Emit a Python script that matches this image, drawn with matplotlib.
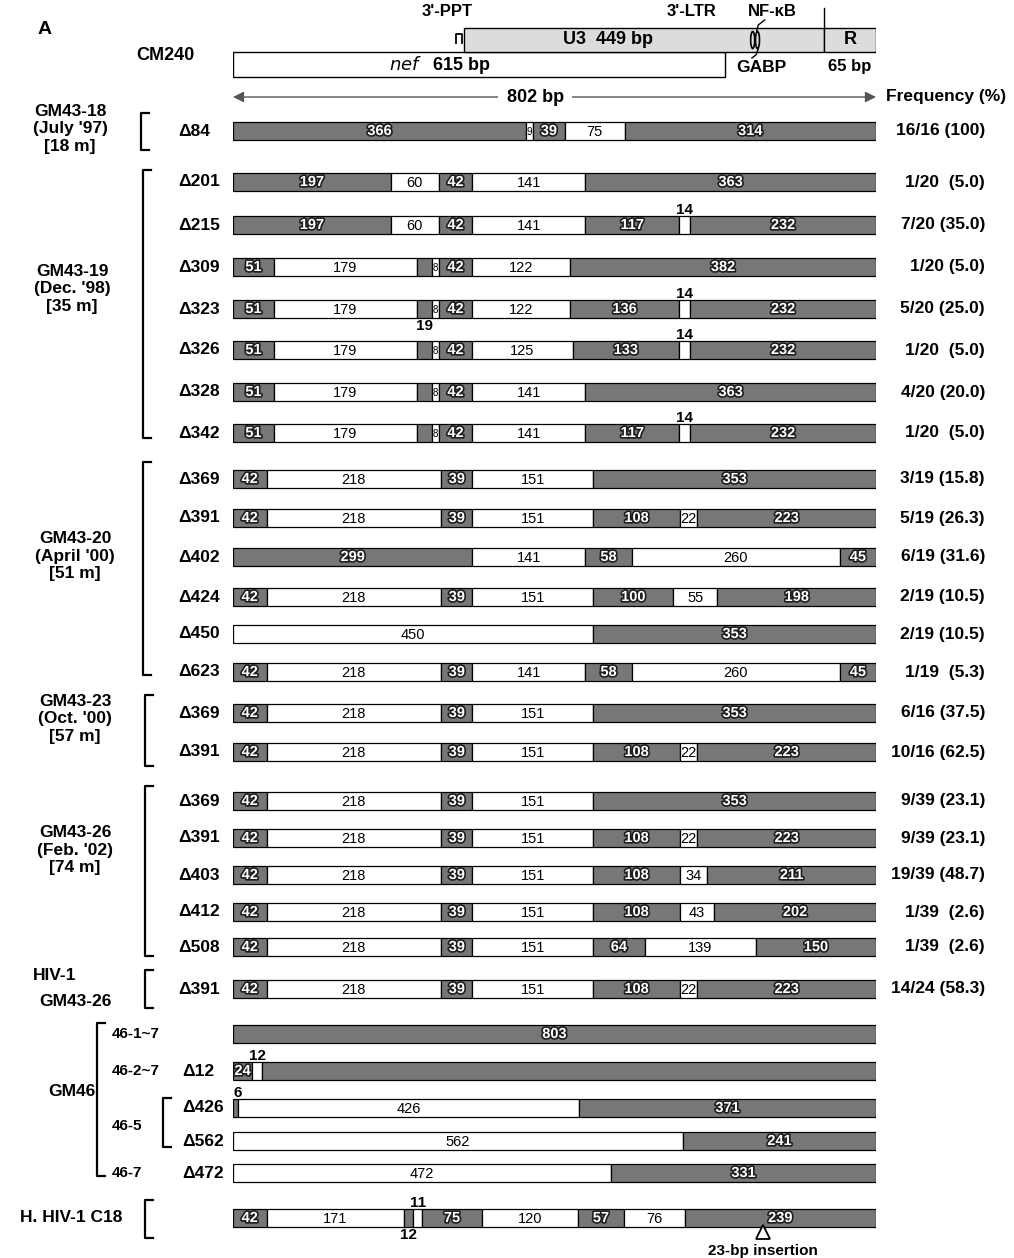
import matplotlib
matplotlib.use('Agg')
import matplotlib.pyplot as plt
import matplotlib.patheffects as pe

plt.rcParams['font.family'] = ['Liberation Sans', 'DejaVu Sans']

# ---- data (bp) ----
total_bp = 803
nef_bp, u3_bp, r_bp = 615, 449, 65
nfkb_bp = 652          # approx. position of the NF-kB sites
insertion_bp = 662     # approx. position of the 23-bp insertion in C18

deletions = ['Δ84',
             'Δ201', 'Δ215', 'Δ309', 'Δ323', 'Δ326', 'Δ328', 'Δ342',
             'Δ369', 'Δ391', 'Δ402', 'Δ424', 'Δ450', 'Δ623',
             'Δ369', 'Δ391',
             'Δ369', 'Δ391', 'Δ403', 'Δ412', 'Δ508',
             'Δ391',
             '', 'Δ12', 'Δ426', 'Δ562', 'Δ472',
             '']

segment_bp = [
    [366, 9, 39, 75, 314],
    [197, 60, 42, 141, 363],
    [197, 60, 42, 141, 117, 14, 232],
    [51, 179, 19, 8, 42, 122, 382],
    [51, 179, 19, 8, 42, 122, 136, 14, 232],
    [51, 179, 19, 8, 42, 125, 133, 14, 232],
    [51, 179, 19, 8, 42, 141, 363],
    [51, 179, 19, 8, 42, 141, 117, 14, 232],
    [42, 218, 39, 151, 353],
    [42, 218, 39, 151, 108, 22, 223],
    [299, 141, 58, 260, 45],
    [42, 218, 39, 151, 100, 55, 198],
    [450, 353],
    [42, 218, 39, 141, 58, 260, 45],
    [42, 218, 39, 151, 353],
    [42, 218, 39, 151, 108, 22, 223],
    [42, 218, 39, 151, 353],
    [42, 218, 39, 151, 108, 22, 223],
    [42, 218, 39, 151, 108, 34, 211],
    [42, 218, 39, 151, 108, 43, 202],
    [42, 218, 39, 151, 64, 139, 150],
    [42, 218, 39, 151, 108, 22, 223],
    [803],
    [24, 12, 767],
    [6, 426, 371],
    [562, 241],
    [472, 331],
    [42, 171, 12, 11, 75, 120, 57, 76, 239],
]

# 1 = retained (gray), 0 = deleted (white)
segment_kept = [
    [1, 0, 1, 0, 1],
    [1, 0, 1, 0, 1],
    [1, 0, 1, 0, 1, 0, 1],
    [1, 0, 1, 0, 1, 0, 1],
    [1, 0, 1, 0, 1, 0, 1, 0, 1],
    [1, 0, 1, 0, 1, 0, 1, 0, 1],
    [1, 0, 1, 0, 1, 0, 1],
    [1, 0, 1, 0, 1, 0, 1, 0, 1],
    [1, 0, 1, 0, 1],
    [1, 0, 1, 0, 1, 0, 1],
    [1, 0, 1, 0, 1],
    [1, 0, 1, 0, 1, 0, 1],
    [0, 1],
    [1, 0, 1, 0, 1, 0, 1],
    [1, 0, 1, 0, 1],
    [1, 0, 1, 0, 1, 0, 1],
    [1, 0, 1, 0, 1],
    [1, 0, 1, 0, 1, 0, 1],
    [1, 0, 1, 0, 1, 0, 1],
    [1, 0, 1, 0, 1, 0, 1],
    [1, 0, 1, 0, 1, 0, 1],
    [1, 0, 1, 0, 1, 0, 1],
    [1],
    [1, 0, 1],
    [1, 0, 1],
    [0, 1],
    [0, 1],
    [1, 0, 1, 0, 1, 0, 1, 0, 1],
]

frequency = ['16/16 (100)',
             '1/20  (5.0)', '7/20 (35.0)', '1/20 (5.0)', '5/20 (25.0)',
             '1/20  (5.0)', '4/20 (20.0)', '1/20  (5.0)',
             '3/19 (15.8)', '5/19 (26.3)', '6/19 (31.6)', '2/19 (10.5)',
             '2/19 (10.5)', '1/19  (5.3)',
             '6/16 (37.5)', '10/16 (62.5)',
             '9/39 (23.1)', '9/39 (23.1)', '19/39 (48.7)', '1/39  (2.6)',
             '1/39  (2.6)',
             '14/24 (58.3)',
             '', '', '', '', '', '']

groups = ["GM43-18\n(July '97)\n[18 m]", "GM43-19\n(Dec. '98)\n[35 m]",
          "GM43-20\n(April '00)\n[51 m]", "GM43-23\n(Oct. '00)\n[57 m]",
          "GM43-26\n(Feb. '02)\n[74 m]", 'GM46', 'H. HIV-1 C18']
gm46_clones = ['46-1~7', '46-2~7', '46-5', '46-7']

# ---- layout (pixels) ----
W, H = 1014, 1258
row_y = [131, 182, 225, 267, 309, 350, 392, 433,
         479, 518, 557, 597, 634, 672,
         713, 752,
         801, 838, 875, 912, 947,
         989,
         1034, 1071, 1108, 1141, 1173,
         1218]
bar_h = 18
# special label placement: (row, segment) -> mode
label_mode = {(2, 5): 'above', (3, 2): 'hide', (4, 2): 'below', (4, 7): 'above',
              (5, 2): 'hide', (5, 7): 'above', (6, 2): 'hide', (7, 2): 'hide',
              (7, 7): 'above', (23, 1): 'above', (23, 2): 'hide',
              (24, 0): 'above_left', (27, 2): 'below', (27, 3): 'above'}
group_pos = [(70, 129), (72, 289), (75, 556), (75, 719), (75, 850), (72, 1091), (71, 1218)]
brackets = [(141, 113, 150), (143, 170, 438), (143, 462, 675), (145, 695, 766),
            (145, 786, 956), (145, 970, 1008), (97, 1023, 1176), (163, 1098, 1147),
            (145, 1200, 1238)]
clone_y = [1034, 1071, 1126, 1173]

GRAY = '#777777'
LIGHT = '#dcdcdc'
FS = 12.5
NUM = 10.5
white_txt = [pe.withStroke(linewidth=2.4, foreground='#1e1e1e')]

fig = plt.figure(figsize=(W / 100, H / 100), dpi=100)
fig.set_facecolor('white')
canvas = fig.add_axes([0, 0, 1, 1])
canvas.set_xlim(0, W)
canvas.set_ylim(H, 0)
canvas.axis('off')

x0, x1 = 233, 876
ax = fig.add_axes([x0 / W, 0, (x1 - x0) / W, 1])
ax.set_xlim(0, total_bp)
ax.set_ylim(H, 0)
ax.axis('off')
ax.patch.set_alpha(0)

# ---- header: CM240 ----
u3_start = total_bp - r_bp - u3_bp
ax.barh(64.5, nef_bp, left=0, height=25, color='white', edgecolor='black', lw=1)
ax.barh(40, u3_bp, left=u3_start, height=24, color=LIGHT, edgecolor='black', lw=1)
ax.barh(40, r_bp, left=u3_start + u3_bp, height=24, color=LIGHT, edgecolor='black', lw=1)
ax.text(u3_start + u3_bp * 0.4, 40, 'U3  449 bp', ha='center', va='center',
        fontsize=13, fontweight='bold')
ax.text(u3_start + u3_bp + r_bp / 2, 40, 'R', ha='center', va='center',
        fontsize=13, fontweight='bold')
ax.text(nef_bp * 0.42, 65, '$\\it{nef}$   615 bp', ha='center', va='center',
        fontsize=13, fontweight='bold')
ax.text(u3_start + u3_bp + r_bp / 2, 67, '65 bp', ha='center', va='center',
        fontsize=12, fontweight='bold')
# 3'-PPT symbol
ax.plot([u3_start - 10, u3_start - 10, u3_start - 3, u3_start - 3],
        [43, 34, 34, 43], color='black', lw=1.3)
ax.text(u3_start - 22, 11, "3'-PPT", ha='center', va='center', fontsize=12, fontweight='bold')
# 3'-LTR marker line
ax.plot([u3_start + u3_bp] * 2, [8, 28], color='black', lw=1)
ax.text(u3_start + u3_bp - 166, 11, "3'-LTR", ha='center', va='center', fontsize=12, fontweight='bold')
# NF-kB sites
for dx in (-3, 3):
    ax.add_patch(matplotlib.patches.Ellipse((nfkb_bp + dx, 40), 5, 17, fill=False, lw=1.2, ec='black'))
ax.text(nfkb_bp + 22, 11, 'NF-κB', ha='center', va='center', fontsize=12, fontweight='bold')
ax.plot([nfkb_bp + 12, nfkb_bp + 4, nfkb_bp + 2], [20, 25, 31], color='black', lw=1)
ax.plot([nfkb_bp + 4, nfkb_bp + 1, nfkb_bp - 4], [49, 55, 58], color='black', lw=1)
ax.text(nfkb_bp + 8, 67, 'GABP', ha='center', va='center', fontsize=12.5, fontweight='bold')

# 802 bp arrow
ax.annotate('', xy=(0, 97), xytext=(total_bp, 97),
            arrowprops=dict(arrowstyle='<|-|>', color='#555555', lw=1,
                            shrinkA=0, shrinkB=0, mutation_scale=16))
ax.text(total_bp * 0.47, 97, '802 bp', ha='center', va='center', fontsize=13,
        fontweight='bold', bbox=dict(fc='white', ec='none', pad=6))
canvas.text(886, 97, 'Frequency (%)', ha='left', va='center', fontsize=12.5, fontweight='bold')
canvas.text(45, 30, 'A', ha='center', va='center', fontsize=14, fontweight='bold')
canvas.text(165, 56, 'CM240', ha='center', va='center', fontsize=13, fontweight='bold')

# ---- rows ----
for r, (lens, kept) in enumerate(zip(segment_bp, segment_kept)):
    y = row_y[r]
    left = 0
    for s, (n, k) in enumerate(zip(lens, kept)):
        ax.barh(y, n, left=left, height=bar_h, color=GRAY if k else 'white',
                edgecolor='black', lw=0.9)
        mode = label_mode.get((r, s), 'in')
        cx = left + n / 2
        small = n < 12
        if mode == 'in':
            if k:
                ax.text(cx, y, str(n), ha='center', va='center', fontsize=NUM,
                        fontweight='bold', color='white', path_effects=white_txt)
            else:
                ax.text(cx, y + 1, str(n), ha='center', va='center',
                        fontsize=NUM - 3.5 if small else NUM, color='black')
        elif mode == 'above':
            ax.text(cx, y - 15, str(n), ha='center', va='center', fontsize=11,
                    fontweight='bold')
        elif mode == 'above_left':
            ax.text(left, y - 15, str(n), ha='left', va='center', fontsize=11,
                    fontweight='bold')
        elif mode == 'below':
            ax.text(cx, y + 17, str(n), ha='center', va='center', fontsize=11,
                    fontweight='bold')
        left += n
    if deletions[r]:
        lx = 182 if r >= 22 else 178
        canvas.text(lx, y, deletions[r], ha='left', va='center', fontsize=FS, fontweight='bold')
    if frequency[r]:
        canvas.text(985, y, frequency[r], ha='right', va='center', fontsize=FS, fontweight='bold')

# 23-bp insertion
ax.plot(insertion_bp, row_y[-1] + 14, marker='^', ms=10, mfc='white', mec='black', mew=1.3)
ax.text(insertion_bp, 1251, '23-bp insertion', ha='center', va='center', fontsize=11,
        fontweight='bold')

# ---- group labels and brackets ----
for label, (gx, gy) in zip(groups, group_pos):
    canvas.text(gx, gy, label, ha='center', va='center', fontsize=FS,
                fontweight='bold', linespacing=1.18)
canvas.text(55, 976, 'HIV-1', ha='center', va='center', fontsize=FS, fontweight='bold')
canvas.text(75, 1001, 'GM43-26', ha='center', va='center', fontsize=FS, fontweight='bold')
for name, cy in zip(gm46_clones, clone_y):
    canvas.text(112, cy, name, ha='left', va='center', fontsize=11, fontweight='bold')

for bx, top, bot in brackets:
    canvas.plot([bx + 8, bx, bx, bx + 8], [top, top, bot, bot], color='black', lw=1.6)

fig.savefig('out.png', dpi=100, facecolor='white')
